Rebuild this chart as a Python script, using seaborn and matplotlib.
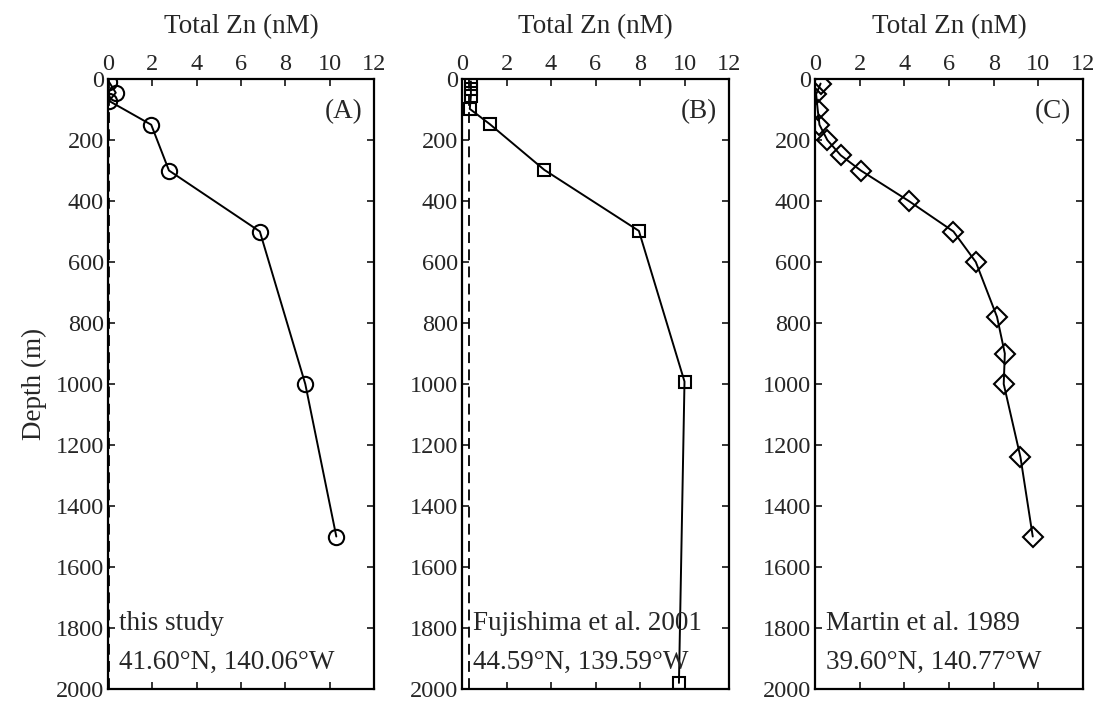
import matplotlib
matplotlib.use("Agg")
import matplotlib.pyplot as plt
import seaborn as sns
import pandas as pd

# ---- data ----
zn_a = [0.05, 0.35, 0.05, 1.95, 2.75, 6.85, 8.9, 10.3]
depth_a = [10, 45, 72, 150, 300, 500, 1000, 1500]

zn_b = [0.4, 0.4, 0.4, 0.35, 1.25, 3.7, 7.95, 10.0, 9.75]
depth_b = [8, 32, 55, 98, 148, 298, 498, 992, 1980]

zn_c = [0.25, 0.05, 0.12, 0.2, 0.55, 1.15, 2.05, 4.2, 6.2, 7.2, 8.15, 8.5, 8.45, 9.2, 9.75]
depth_c = [15, 50, 100, 150, 200, 250, 300, 400, 500, 600, 780, 900, 1000, 1240, 1500]

dashed_x = [0.05, 0.33, None]
panel_tags = ["(A)", "(B)", "(C)"]
source_labels = ["this study", "Fujishima et al. 2001", "Martin et al. 1989"]
position_labels = ["41.60°N, 140.06°W",
                   "44.59°N, 139.59°W",
                   "39.60°N, 140.77°W"]
markers = ["o", "s", "D"]
marker_sizes = [11, 9, 10.5]
xlabel = "Total Zn (nM)"
ylabel = "Depth (m)"
xticks = [0, 2, 4, 6, 8, 10, 12]
yticks = list(range(0, 2001, 200))

sns.set_style("ticks")
plt.rcParams["font.family"] = ["Liberation Serif", "DejaVu Serif"]

FS = 19.5
fig = plt.figure(figsize=(11, 7.04), dpi=100)
lefts = [108 / 1100, 462 / 1100, 815 / 1100]
widths = [266 / 1100, 267 / 1100, 268 / 1100]
bottom = 1 - 689 / 704
height = 610 / 704

datasets = [(zn_a, depth_a), (zn_b, depth_b), (zn_c, depth_c)]
for i, (zn, dep) in enumerate(datasets):
    ax = fig.add_axes([lefts[i], bottom, widths[i], height])
    df = pd.DataFrame({"zn": zn, "depth": dep})
    if dashed_x[i] is not None:
        ax.axvline(dashed_x[i], color="black", lw=1.3, ls=(0, (6, 3.5)), zorder=1)
    sns.lineplot(data=df, x="zn", y="depth", sort=False, estimator=None, ax=ax,
                 color="black", lw=1.4, marker=markers[i], markersize=marker_sizes[i],
                 markerfacecolor="none", markeredgecolor="black", markeredgewidth=1.5,
                 zorder=3)
    ax.set_xlim(0, 12)
    ax.set_ylim(2000, 0)
    ax.set_xticks(xticks)
    ax.set_yticks(yticks)
    ax.xaxis.set_label_position("top")
    ax.set_xlabel(xlabel, fontsize=FS, labelpad=15)
    if i == 0:
        ax.set_ylabel(ylabel, fontsize=FS, labelpad=6)
    else:
        ax.set_ylabel("")
    ax.tick_params(axis="both", direction="in", length=5, width=1.3,
                   top=True, bottom=True, left=True, right=True,
                   labeltop=True, labelbottom=False, labelleft=True, labelright=False,
                   labelsize=17.5, pad=3)
    for sp in ax.spines.values():
        sp.set_visible(True)
        sp.set_linewidth(1.6)
        sp.set_color("black")
    ax.text(0.955, 0.946, panel_tags[i], transform=ax.transAxes, ha="right",
            va="center", fontsize=FS)
    ax.text(0.042, 0.108, source_labels[i], transform=ax.transAxes, ha="left",
            va="center", fontsize=FS)
    ax.text(0.042, 0.043, position_labels[i], transform=ax.transAxes, ha="left",
            va="center", fontsize=FS)

fig.savefig("out.png", dpi=100)
